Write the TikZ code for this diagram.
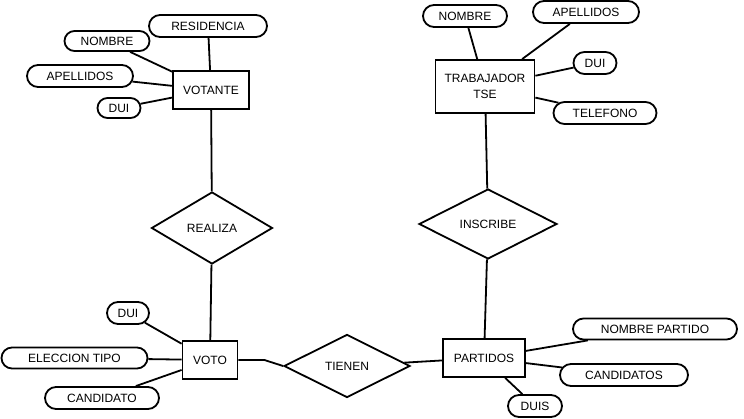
\documentclass[tikz,border=0pt]{standalone}
\usepackage{fontspec}
\setmainfont{Liberation Sans}
\usetikzlibrary{shapes.geometric,shapes.misc}
\begin{document}
\begin{tikzpicture}[x=1pt,y=-1pt,
  every node/.style={font=\fontsize{12}{16}\selectfont, inner sep=0pt},
  entity/.style={draw, line width=1.8pt, rectangle, align=center},
  attr/.style={draw, line width=1.8pt, rounded rectangle, minimum height=22pt},
  rel/.style={draw, line width=1.8pt, diamond},
  conn/.style={line width=1.8pt}]
\useasboundingbox (0,0) rectangle (744,419);
% entities
\node[entity, minimum width=76pt, minimum height=38pt] (votante) at (211,90) {VOTANTE};
\node[entity, minimum width=55pt, minimum height=38pt] (voto) at (210,360) {VOTO};
\node[entity, minimum width=82pt, minimum height=38pt] (partidos) at (484,358) {PARTIDOS};
\node[entity, minimum width=99pt, minimum height=53pt] (trab) at (485,86.5) {TRABAJADOR\\TSE};
% relations
\node[rel, minimum width=121pt, minimum height=72pt] (realiza) at (212,228) {REALIZA};
\node[rel, minimum width=126pt, minimum height=63pt] (tienen) at (347,366) {TIENEN};
\node[rel, minimum width=138pt, minimum height=70pt] (inscribe) at (488,224) {INSCRIBE};
% attributes
\node[attr, minimum width=118pt] (residencia) at (208,26) {RESIDENCIA};
\node[attr, minimum width=85pt, minimum height=20pt] (nombreA) at (107,41) {NOMBRE};
\node[attr, minimum width=106pt] (apellidosA) at (80,76) {APELLIDOS};
\node[attr, minimum width=43pt, minimum height=20pt] (duiA) at (119,108) {DUI};
\node[attr, minimum width=42pt] (duiB) at (128,313) {DUI};
\node[attr, minimum width=146pt, minimum height=21pt] (eleccion) at (74.5,358) {ELECCION TIPO};
\node[attr, minimum width=114pt] (candidato) at (102,398) {CANDIDATO};
\node[attr, minimum width=164pt, minimum height=21pt] (nombrepartido) at (655,329) {NOMBRE PARTIDO};
\node[attr, minimum width=128pt] (candidatos) at (624,375) {CANDIDATOS};
\node[attr, minimum width=54pt] (duis) at (535,406) {DUIS};
\node[attr, minimum width=84pt] (nombreC) at (465,16) {NOMBRE};
\node[attr, minimum width=106pt] (apellidosC) at (586,12) {APELLIDOS};
\node[attr, minimum width=43pt] (duiC) at (595,63) {DUI};
\node[attr, minimum width=103pt] (telefono) at (605,113) {TELEFONO};
% connectors
\draw[conn] (residencia) -- (votante);
\draw[conn] (nombreA) -- (votante);
\draw[conn] (apellidosA) -- (votante);
\draw[conn] (duiA) -- (votante);
\draw[conn] (votante) -- (realiza);
\draw[conn] (realiza) -- (voto);
\draw[conn] (duiB) -- (voto);
\draw[conn] (eleccion) -- (voto);
\draw[conn] (candidato) -- (voto);
\draw[conn] (voto.east) -- ++(26,0) -- (tienen.west);
\draw[conn] (tienen) -- (partidos);
\draw[conn] (nombrepartido) -- (partidos);
\draw[conn] (candidatos) -- (partidos);
\draw[conn] (duis) -- (partidos);
\draw[conn] (partidos) -- (inscribe);
\draw[conn] (inscribe) -- (trab);
\draw[conn] (nombreC) -- (trab);
\draw[conn] (apellidosC) -- (trab);
\draw[conn] (duiC) -- (trab);
\draw[conn] (telefono) -- (trab);
\end{tikzpicture}
\end{document}
